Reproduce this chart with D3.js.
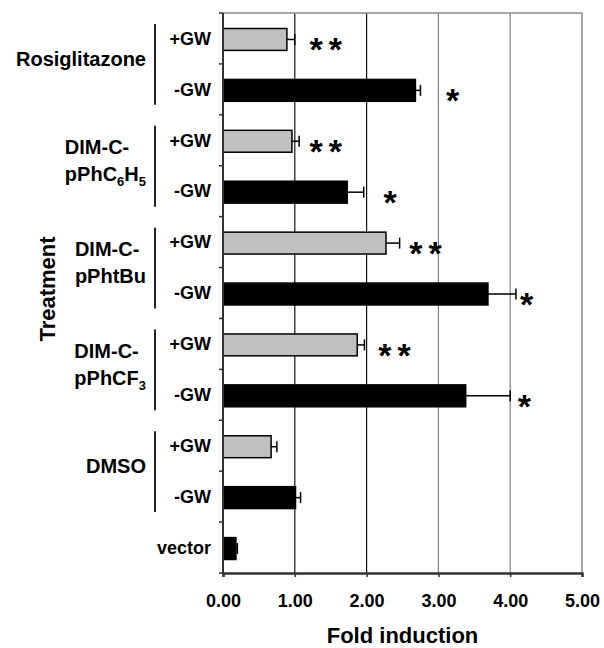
<!DOCTYPE html>
<html>
<head>
<meta charset="utf-8">
<script src="https://cdn.jsdelivr.net/npm/d3@7"></script>
<style>
  body { margin: 0; background: #fff; }
  text { font-family: Arial, "Liberation Sans", Helvetica, sans-serif; font-weight: bold; }
</style>
</head>
<body>
<div id="container"></div>
<script>
// 各行（从上到下）
const rowLabels = ["+GW", "-GW", "+GW", "-GW", "+GW", "-GW", "+GW", "-GW", "+GW", "-GW", "vector"];
const values = [0.89, 2.68, 0.96, 1.73, 2.27, 3.69, 1.87, 3.38, 0.67, 1.01, 0.18];
const errors = [0.11, 0.07, 0.10, 0.23, 0.19, 0.39, 0.10, 0.62, 0.08, 0.07, 0.02];
const withGW = [true, false, true, false, true, false, true, false, true, false, false];
// 显著性标记及其所在位置（数据单位）
const stars = ["**", "*", "**", "*", "**", "*", "**", "*", "", "", ""];
const starAt = [1.43, 3.24, 1.43, 2.37, 2.82, 4.27, 2.39, 4.24, null, null, null];

// 分组（每组两行），多行标签用数组表示，[text, sub] 表示下标
const groups = [
  [[["Rosiglitazone"]]],
  [[["DIM-C-"]], [["pPhC"], ["6", true], ["H"], ["5", true]]],
  [[["DIM-C-"]], [["pPhtBu"]]],
  [[["DIM-C-"]], [["pPhCF"], ["3", true]]],
  [[["DMSO"]]]
];

const xTicks = [0, 1, 2, 3, 4, 5];

const width = 604;
const height = 648;
const marginLeft = 223, marginRight = 22, marginTop = 13, marginBottom = 75;

const svg = d3.select("#container").append("svg")
  .attr("width", width)
  .attr("height", height);

const x = d3.scaleLinear().domain([0, 5]).range([marginLeft, width - marginRight]);
const y = d3.scaleBand().domain(d3.range(rowLabels.length)).range([marginTop, height - marginBottom]);
const barH = y.bandwidth() * 0.43;
const mid = (i) => y(i) + y.bandwidth() / 2 + 1;

// 网格线
svg.append("g")
  .selectAll("line")
  .data(xTicks.slice(1))
  .join("line")
  .attr("x1", (d) => x(d)).attr("x2", (d) => x(d))
  .attr("y1", marginTop).attr("y2", height - marginBottom)
  .attr("stroke", (d) => (d <= 2 ? "#111" : d === 5 ? "#8a8a8a" : "#808080"))
  .attr("stroke-width", (d) => (d === 5 ? 1.5 : 1.2));

// 顶部边框
svg.append("line")
  .attr("x1", x(0)).attr("x2", x(5))
  .attr("y1", marginTop).attr("y2", marginTop)
  .attr("stroke", "#8a8a8a").attr("stroke-width", 1.5);

// 条形
svg.append("g")
  .selectAll("rect")
  .data(values)
  .join("rect")
  .attr("x", x(0))
  .attr("y", (d, i) => mid(i) - barH / 2)
  .attr("width", (d) => x(d) - x(0))
  .attr("height", barH)
  .attr("fill", (d, i) => (withGW[i] ? "#c0c0c0" : "#000"))
  .attr("stroke", "#000")
  .attr("stroke-width", 1.5);

// 误差线（单侧）
const eb = svg.append("g").attr("stroke", "#000").attr("stroke-width", 1.5);
eb.selectAll("line.h")
  .data(values)
  .join("line")
  .attr("class", "h")
  .attr("x1", (d) => x(d))
  .attr("x2", (d, i) => x(d + errors[i]))
  .attr("y1", (d, i) => mid(i))
  .attr("y2", (d, i) => mid(i));
eb.selectAll("line.c")
  .data(values)
  .join("line")
  .attr("class", "c")
  .attr("x1", (d, i) => x(d + errors[i]))
  .attr("x2", (d, i) => x(d + errors[i]))
  .attr("y1", (d, i) => mid(i) - 5.5)
  .attr("y2", (d, i) => mid(i) + 5.5);

// 星号
svg.append("g")
  .selectAll("text")
  .data(d3.range(stars.length).filter((i) => stars[i]))
  .join("text")
  .attr("x", (i) => x(starAt[i]) + (stars[i].length > 1 ? 3 : 0))
  .attr("y", (i) => mid(i) + 22)
  .attr("text-anchor", "middle")
  .attr("font-size", 34)
  .attr("letter-spacing", 6)
  .text((i) => stars[i]);

// 左轴
svg.append("line")
  .attr("x1", x(0)).attr("x2", x(0))
  .attr("y1", marginTop).attr("y2", height - marginBottom)
  .attr("stroke", "#333").attr("stroke-width", 2);
svg.append("g")
  .selectAll("line")
  .data(d3.range(rowLabels.length + 1))
  .join("line")
  .attr("x1", x(0) - 4).attr("x2", x(0))
  .attr("y1", (i) => marginTop + i * y.step())
  .attr("y2", (i) => marginTop + i * y.step())
  .attr("stroke", "#333").attr("stroke-width", 1.5);

// 底轴
const xAxis = svg.append("g")
  .attr("transform", `translate(0,${height - marginBottom})`)
  .call(d3.axisBottom(x).tickValues(xTicks).tickFormat(d3.format(".2f")).tickSize(4).tickPadding(17));
xAxis.select(".domain").attr("stroke", "#333").attr("stroke-width", 2.5);
xAxis.selectAll(".tick line").attr("stroke", "#333").attr("stroke-width", 1.5);
xAxis.selectAll(".tick text")
  .attr("font-size", 18)
  .attr("font-family", "Arial, 'Liberation Sans', sans-serif")
  .attr("font-weight", "bold")
  .attr("fill", "#000");

// 行标签
svg.append("g")
  .selectAll("text")
  .data(rowLabels)
  .join("text")
  .attr("x", x(0) - 12)
  .attr("y", (d, i) => mid(i) - 1)
  .attr("dy", "0.35em")
  .attr("text-anchor", "end")
  .attr("font-size", 18)
  .text((d) => d);

// 分组标签与竖线
const groupRight = 146;
groups.forEach((lines, g) => {
  const top = y(g * 2);
  const bottom = y(g * 2 + 1) + y.bandwidth();
  svg.append("line")
    .attr("x1", 155).attr("x2", 155)
    .attr("y1", top + 11).attr("y2", bottom - 10)
    .attr("stroke", "#222").attr("stroke-width", 2);

  const center = (top + bottom) / 2 - 5;
  const lh = 27;
  const gText = svg.append("g");
  const texts = lines.map((parts, k) => {
    const t = gText.append("text")
      .attr("y", center + (k - (lines.length - 1) / 2) * lh)
      .attr("dy", "0.35em")
      .attr("font-size", 20);
    parts.forEach(([s, sub]) => {
      const ts = t.append("tspan").text(s);
      if (sub) ts.attr("font-size", 13).attr("dy", 5);
      else if (t.selectAll("tspan").size() > 1) ts.attr("dy", -5);
    });
    return t;
  });
  const w = d3.max(texts, (t) => t.node().getComputedTextLength());
  texts.forEach((t) => t.attr("x", groupRight - w));
});

// 坐标轴标题
svg.append("text")
  .attr("transform", `translate(47,${(marginTop + height - marginBottom) / 2 - 4}) rotate(-90)`)
  .attr("text-anchor", "middle")
  .attr("dy", "0.35em")
  .attr("font-size", 22)
  .text("Treatment");

svg.append("text")
  .attr("x", (x(0) + x(5)) / 2)
  .attr("y", 643)
  .attr("text-anchor", "middle")
  .attr("font-size", 22)
  .text("Fold induction");
</script>
</body>
</html>
